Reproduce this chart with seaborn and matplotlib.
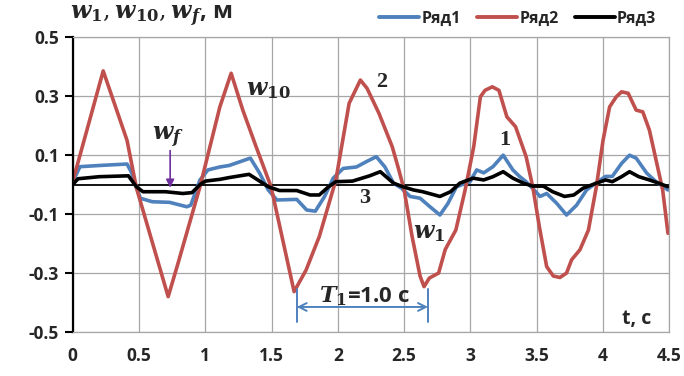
import numpy as np
import pandas as pd
import matplotlib
matplotlib.use("Agg")
import matplotlib.pyplot as plt
from matplotlib.lines import Line2D
import seaborn as sns

# ---- data ----
series_names = ["Ряд1", "Ряд2", "Ряд3"]
series_colors = ["#4F81BD", "#C0504D", "#000000"]

t1 = [0, 0.055, 0.2, 0.41, 0.445, 0.51, 0.6, 0.73, 0.86, 0.89,
      0.96, 1.02, 1.11, 1.18, 1.34, 1.41, 1.475, 1.54, 1.69, 1.765,
      1.83, 1.90, 1.965, 2.04, 2.14, 2.215, 2.29, 2.355, 2.42, 2.48,
      2.545, 2.62, 2.695, 2.77, 2.83, 2.895, 2.997, 3.047, 3.10, 3.17,
      3.247, 3.32, 3.37, 3.42, 3.48, 3.525, 3.575, 3.65, 3.725, 3.80,
      3.876, 3.96, 4.02, 4.07, 4.14, 4.20, 4.25, 4.33, 4.40, 4.49]
w1 = [0.01, 0.061, 0.065, 0.07, 0.04, -0.046, -0.058, -0.06, -0.075, -0.07,
      0.016, 0.05, 0.06, 0.065, 0.09, 0.039, -0.018, -0.052, -0.05, -0.086,
      -0.09, -0.04, 0.022, 0.055, 0.06, 0.078, 0.095, 0.06, 0.005, -0.012,
      -0.04, -0.046, -0.075, -0.103, -0.064, -0.007, 0.01, 0.05, 0.04, 0.061,
      0.10, 0.05, 0.028, 0.01, -0.018, -0.04, -0.03, -0.063, -0.103, -0.07,
      -0.018, 0.01, 0.028, 0.028, 0.072, 0.10, 0.09, 0.039, 0.01, -0.018]

t10 = [0, 0.23, 0.41, 0.48, 0.72, 0.795, 0.96, 1.11, 1.195, 1.283,
       1.383, 1.496, 1.67, 1.76, 1.86, 1.985, 2.085, 2.17, 2.22, 2.31,
       2.41, 2.46, 2.5, 2.56, 2.62, 2.65, 2.69, 2.76, 2.81, 2.89,
       2.96, 3.025, 3.075, 3.11, 3.165, 3.215, 3.275, 3.34, 3.42, 3.47,
       3.52, 3.575, 3.625, 3.675, 3.725, 3.763, 3.826, 3.89, 3.95, 4.0,
       4.05, 4.1, 4.14, 4.19, 4.25, 4.30, 4.35, 4.40, 4.45, 4.49]
w10 = [0.01, 0.386, 0.15, -0.01, -0.38, -0.266, -0.007, 0.264, 0.378, 0.253,
       0.129, -0.007, -0.363, -0.29, -0.176, 0.016, 0.276, 0.355, 0.327, 0.242,
       0.129, 0.05, -0.018, -0.176, -0.31, -0.346, -0.317, -0.30, -0.22, -0.154,
       -0.018, 0.129, 0.298, 0.32, 0.332, 0.32, 0.23, 0.197, 0.095, -0.007,
       -0.143, -0.278, -0.31, -0.315, -0.30, -0.255, -0.221, -0.154, -0.007, 0.15,
       0.264, 0.298, 0.315, 0.31, 0.253, 0.247, 0.185, 0.084, -0.018, -0.165]

tf = [0, 0.04, 0.2, 0.42, 0.48, 0.53, 0.7, 0.83, 0.90, 0.96,
      1.0, 1.11, 1.18, 1.33, 1.41, 1.475, 1.56, 1.69, 1.79, 1.86,
      1.93, 1.985, 2.11, 2.24, 2.32, 2.42, 2.49, 2.57, 2.64, 2.77,
      2.85, 2.92, 3.02, 3.10, 3.17, 3.247, 3.32, 3.40, 3.47, 3.55,
      3.62, 3.71, 3.78, 3.85, 3.95, 4.02, 4.07, 4.14, 4.20, 4.27,
      4.35, 4.42, 4.49]
wf = [0.0, 0.02, 0.027, 0.03, -0.007, -0.024, -0.024, -0.03, -0.027, 0.0,
      0.012, 0.018, 0.024, 0.035, 0.012, -0.007, -0.02, -0.02, -0.035, -0.035,
      -0.007, 0.01, 0.012, 0.03, 0.044, 0.005, -0.007, -0.018, -0.024, -0.04,
      -0.024, 0.005, 0.022, 0.016, 0.027, 0.044, 0.022, 0.005, -0.005, -0.005,
      -0.024, -0.04, -0.035, -0.012, 0.005, 0.016, 0.01, 0.027, 0.044, 0.027,
      0.016, 0.005, -0.007]

x_ticks = [0, 0.5, 1, 1.5, 2, 2.5, 3, 3.5, 4, 4.5]
x_labels = ["0", "0.5", "1", "1.5", "2", "2.5", "3", "3.5", "4", "4.5"]
y_ticks = [-0.5, -0.3, -0.1, 0.1, 0.3, 0.5]
y_labels = ["-0.5", "-0.3", "-0.1", "0.1", "0.3", "0.5"]

period_start, period_end = 1.69, 2.68

# ---- build frame ----
df = pd.concat([
    pd.DataFrame({"t": t1, "w": w1, "series": series_names[0]}),
    pd.DataFrame({"t": t10, "w": w10, "series": series_names[1]}),
    pd.DataFrame({"t": tf, "w": wf, "series": series_names[2]}),
], ignore_index=True)

sns.set_theme(style="white")
plt.rcParams["font.family"] = ["Open Sans", "DejaVu Sans"]
plt.rcParams["mathtext.fontset"] = "dejavuserif"

fig = plt.figure(figsize=(6.84, 3.76), dpi=100)
ax = fig.add_axes([0.1063, 0.117, 0.8722, 0.7838])

grid_c = "#A6A6A6"
ax.axhline(0, color="black", lw=1.3, zorder=1.5)
palette = dict(zip(series_names, series_colors))
sns.lineplot(data=df, x="t", y="w", hue="series", palette=palette,
             estimator=None, sort=False, lw=2.6, ax=ax, legend=False, zorder=2)

ax.set_xlim(0, 4.5)
ax.set_ylim(-0.5, 0.5)
ax.set_xticks(x_ticks)
ax.set_xticklabels(x_labels, fontsize=12.5, fontweight="bold")
ax.set_yticks(y_ticks)
ax.set_yticklabels(y_labels, fontsize=12.5, fontweight="bold")
ax.set_xlabel("")
ax.set_ylabel("")
ax.grid(True, color=grid_c, lw=0.9)
ax.set_axisbelow(True)
for s in ["top", "right", "bottom"]:
    ax.spines[s].set_color(grid_c)
    ax.spines[s].set_linewidth(0.9)
ax.spines["left"].set_color("black")
ax.spines["left"].set_linewidth(1.6)
ax.tick_params(axis="y", direction="out", length=6, width=1.5, color="black", pad=4, left=True)
ax.tick_params(axis="x", length=0, pad=11)

# legend
handles = [Line2D([0], [0], color=c, lw=2.8) for c in series_colors]
leg = ax.legend(handles, series_names, loc="center right", bbox_to_anchor=(0.978, 1.064),
                ncol=3, frameon=False, prop={"weight": "bold", "size": 11.5},
                handlelength=2.5, handletextpad=0.15, columnspacing=1.0,
                borderaxespad=0, borderpad=0)

# annotations
ax.text(-0.005, 1.07, r"$\mathbfit{w}_\mathbf{1}, \mathbfit{w}_\mathbf{10}, \mathbfit{w}_\mathbfit{f}$, м",
        transform=ax.transAxes, ha="left", va="center", fontsize=17, fontweight="bold")
ax.text(1.31, 0.325, r"$\mathbfit{w}_\mathbf{10}$", fontsize=17, ha="left", va="center")
ax.text(2.33, 0.35, "2", fontsize=16, fontweight="bold", family="Liberation Serif", ha="center", va="center")
ax.text(3.26, 0.15, "1", fontsize=16, fontweight="bold", family="Liberation Serif", ha="center", va="center")
ax.text(2.2, -0.045, "3", fontsize=16, fontweight="bold", family="Liberation Serif", ha="center", va="center")
ax.text(2.57, -0.16, r"$\mathbfit{w}_\mathbf{1}$", fontsize=17, ha="left", va="center")
ax.text(0.6, 0.16, r"$\mathbfit{w}_\mathbfit{f}$", fontsize=17, ha="left", va="center")
ax.annotate("", xy=(0.735, -0.02), xytext=(0.735, 0.125),
            arrowprops=dict(arrowstyle="-|>", color="#7030A0", lw=1.2, mutation_scale=12))
ax.text(2.2, -0.38, r"$\mathbfit{T}_\mathbf{1}$=1.0 c", fontsize=16, fontweight="bold",
        ha="center", va="center")
ax.annotate("", xy=(period_start, -0.415), xytext=(period_end, -0.415),
            arrowprops=dict(arrowstyle="<->", color="#4F81BD", lw=1.4, mutation_scale=14,
                            shrinkA=0, shrinkB=0))
for xv in (period_start, period_end):
    ax.plot([xv, xv], [-0.355, -0.465], color="#4F81BD", lw=1.4)
ax.text(4.25, -0.455, "t, c", fontsize=14, fontweight="bold", ha="center", va="center")

fig.savefig("out.png", dpi=100)
